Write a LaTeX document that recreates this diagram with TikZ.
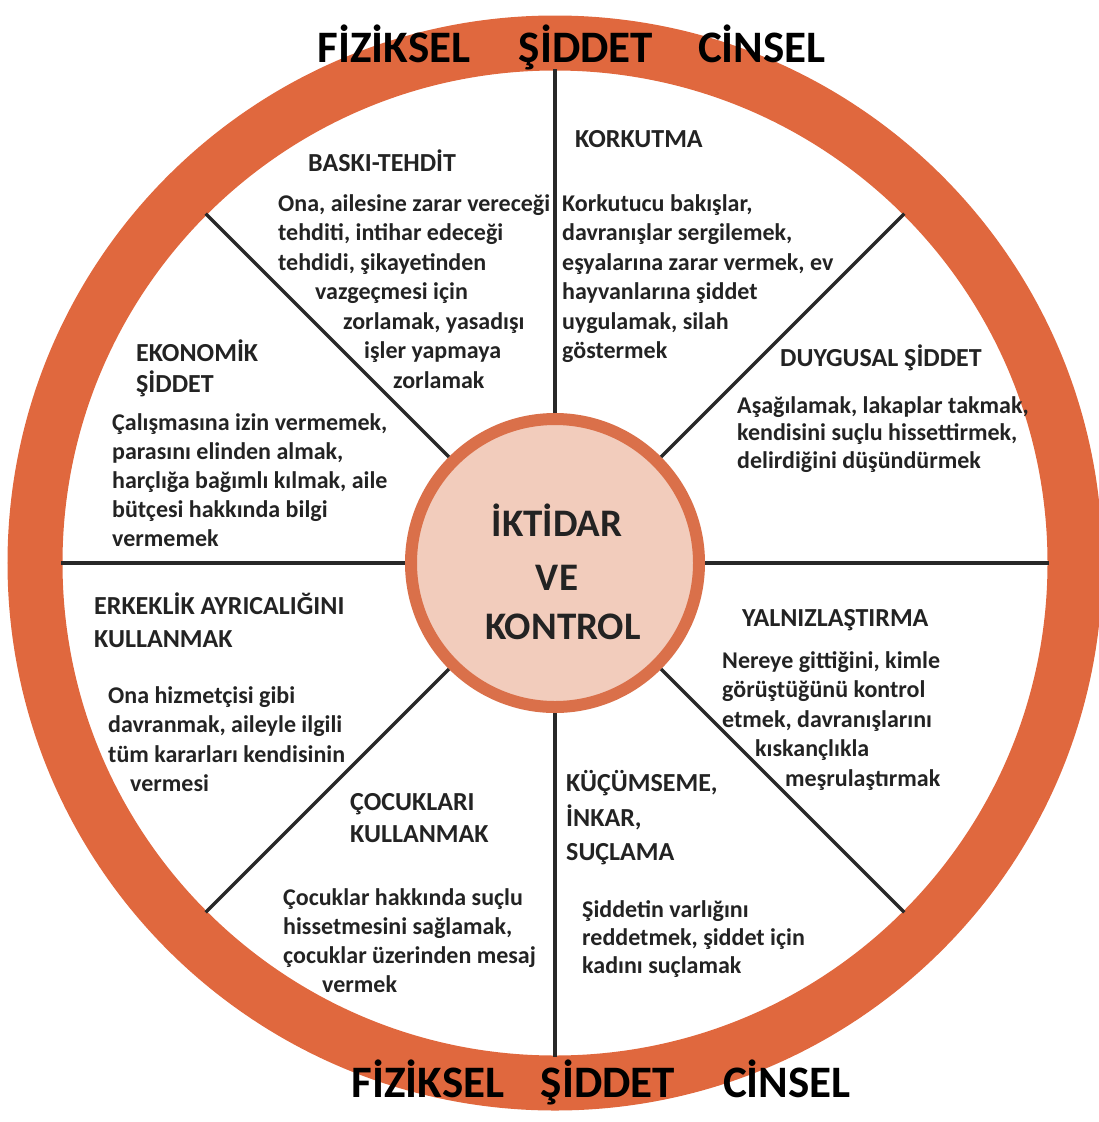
\documentclass[tikz,border=0pt]{standalone}
\usepackage{fontspec}
\setmainfont{Carlito}
\definecolor{ringorange}{RGB}{224,104,62}
\definecolor{hubedge}{RGB}{218,112,74}
\definecolor{hubfill}{RGB}{242,204,188}
\definecolor{ink}{RGB}{35,35,35}
\definecolor{spokegray}{RGB}{40,40,40}
\tikzset{
  body/.style={anchor=base west, inner sep=0pt, text=ink, font=\fontsize{24bp}{29bp}\selectfont\bfseries},
  heading/.style={body, font=\fontsize{26bp}{31bp}\selectfont\bfseries},
  title/.style={anchor=base, inner sep=0pt, text=black, font=\fontsize{45bp}{50bp}\selectfont\bfseries},
  hubtext/.style={anchor=base, inner sep=0pt, text=ink, font=\fontsize{39bp}{44bp}\selectfont\bfseries},
  spoke/.style={draw=spokegray, line width=3.5bp},
}
\begin{document}
\begin{tikzpicture}[x=1bp, y=1bp]
\useasboundingbox (0,0) rectangle (1099,-1122);

% outer ring
\draw[ringorange, line width=55bp] (555,-563) circle (520);

% hub
\node[circle, draw=hubedge, line width=12bp, fill=hubfill, minimum size=288bp, inner sep=0pt] (hub) at (555,-563) {};

% spokes
\foreach \a in {0,45,...,315} {
  \path (hub.center) ++(\a:494) coordinate (rim\a);
  \draw[spoke] (hub.\a) -- (rim\a);
}

\node[hubtext] (iktidar) at (557,-536) {İKTİDAR};
\node[hubtext] (ve) at (557,-590) {VE};
\node[hubtext] (kontrol) at (563,-639) {KONTROL};

% ring labels
\node[title] (topF) at (394,-62) {FİZİKSEL};
\node[title] (topS) at (586,-62) {ŞİDDET};
\node[title] (topC) at (762,-62) {CİNSEL};
\node[title] (botF) at (428,-1097) {FİZİKSEL};
\node[title] (botS) at (608,-1097) {ŞİDDET};
\node[title] (botC) at (787,-1097) {CİNSEL};

% baski-tehdit
\node[heading] (baski) at (308,-171) {BASKI-TEHDİT};
\foreach \dx/\txt [count=\i from 0] in {0/{Ona, ailesine zarar vereceği}, 0/{tehditi, intihar edeceği}, 0/{tehdidi, şikayetinden}, 37/{vazgeçmesi için}, 65/{zorlamak, yasadışı}, 86/{işler yapmaya}, 115/{zorlamak}}
  \node[body] (baski-\i) at ({278+\dx},{-211-29.5*\i}) {\txt};

% korkutma
\node[heading] (korku) at (575,-147) {KORKUTMA};
\foreach \txt [count=\i from 0] in {{Korkutucu bakışlar,}, {davranışlar sergilemek,}, {eşyalarına zarar vermek, ev}, {hayvanlarına şiddet}, {uygulamak, silah}, {göstermek}}
  \node[body] (korku-\i) at (562,{-211-29.5*\i}) {\txt};

% duygusal
\node[heading] (duygu) at (780,-366) {DUYGUSAL ŞİDDET};
\foreach \txt [count=\i from 0] in {{Aşağılamak, lakaplar takmak,}, {kendisini suçlu hissettirmek,}, {delirdiğini düşündürmek}}
  \node[body] (duygu-\i) at (737,{-413-27.5*\i}) {\txt};

% ekonomik
\node[heading] (eko) at (136,-361) {EKONOMİK};
\node[heading] (eko2) at (136,-392) {ŞİDDET};
\foreach \txt [count=\i from 0] in {{Çalışmasına izin vermemek,}, {parasını elinden almak,}, {harçlığa bağımlı kılmak, aile}, {bütçesi hakkında bilgi}, {vermemek}}
  \node[body] (eko-\i) at (112,{-430-29*\i}) {\txt};

% erkeklik
\node[heading] (erkek) at (94,-614) {ERKEKLİK AYRICALIĞINI};
\node[heading] (erkek2) at (94,-647) {KULLANMAK};
\foreach \dx/\txt [count=\i from 0] in {0/{Ona hizmetçisi gibi}, 0/{davranmak, aileyle ilgili}, 0/{tüm kararları kendisinin}, 22/{vermesi}}
  \node[body] (erkek-\i) at ({108+\dx},{-703-29.5*\i}) {\txt};

% yalnizlastirma
\node[heading] (yalniz) at (742,-626) {YALNIZLAŞTIRMA};
\foreach \dx/\txt [count=\i from 0] in {0/{Nereye gittiğini, kimle}, 0/{görüştüğünü kontrol}, 0/{etmek, davranışlarını}, 33/{kıskançlıkla}, 63/{meşrulaştırmak}}
  \node[body] (yalniz-\i) at ({722+\dx},{-668-29.5*\i}) {\txt};

% cocuklar
\node[heading] (cocuk) at (350,-810) {ÇOCUKLARI};
\node[heading] (cocuk2) at (350,-842) {KULLANMAK};
\foreach \dx/\txt [count=\i from 0] in {0/{Çocuklar hakkında suçlu}, 0/{hissetmesini sağlamak,}, 0/{çocuklar üzerinden mesaj}, 39/{vermek}}
  \node[body] (cocuk-\i) at ({283+\dx},{-905-29*\i}) {\txt};

% kucumseme
\node[heading] (kucum) at (566,-791) {KÜÇÜMSEME,};
\node[heading] (kucum2) at (566,-826) {İNKAR,};
\node[heading] (kucum3) at (566,-860) {SUÇLAMA};
\foreach \txt [count=\i from 0] in {{Şiddetin varlığını}, {reddetmek, şiddet için}, {kadını suçlamak}}
  \node[body] (kucum-\i) at (582,{-917-28*\i}) {\txt};
\end{tikzpicture}
\end{document}
